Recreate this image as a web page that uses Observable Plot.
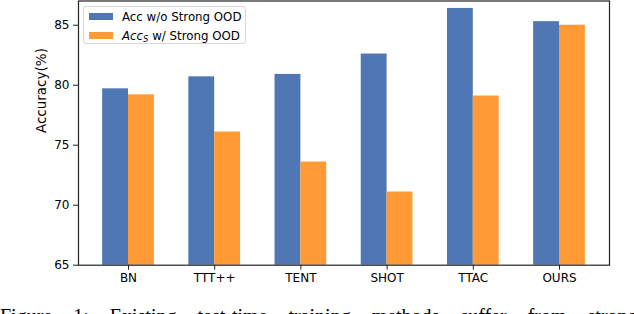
<!DOCTYPE html>
<html>
<head>
<meta charset="utf-8">
<script src="https://cdn.jsdelivr.net/npm/d3@7"></script>
<script src="https://cdn.jsdelivr.net/npm/@observablehq/plot@0.6"></script>
<style>
  html, body { margin: 0; padding: 0; background: #fff; overflow: hidden; }
  #wrap { position: relative; width: 634px; height: 314px; font-family: "DejaVu Sans", sans-serif; }
  #legend { position: absolute; left: 83px; top: 6px; width: 163px; height: 38px; border: 1px solid #d6d6d6; border-radius: 3px; background: rgba(255,255,255,0.85); box-sizing: border-box; }
  .sw { position: absolute; left: 5px; width: 24px; height: 7px; }
  .lt { position: absolute; left: 38px; font-size: 11.8px; line-height: 14px; white-space: nowrap; color: #000; }
  #caption { position: absolute; left: 0; top: 306px; font-family: "Liberation Serif", serif; font-size: 20px; line-height: 20px; white-space: nowrap; word-spacing: 16px; color: #000; }
</style>
</head>
<body>
<div id="wrap"></div>
<script>
const categories = ["BN", "TTT++", "TENT", "SHOT", "TTAC", "OURS"];
const accNoOOD = [79.7, 80.7, 80.9, 82.6, 86.4, 85.3];
const accOOD   = [79.2, 76.1, 73.6, 71.1, 79.1, 85.0];
const seriesNames = ["Acc w/o Strong OOD", "Acc_S w/ Strong OOD"];
const seriesColors = ["#4f77b3", "#ff9a35"];
const yTicks = [65, 70, 75, 80, 85];
const yLabel = "Accuracy(%)";
const captionText = "Figure 1: Existing test-time training methods suffer from strong OOD";

const barW = 0.3;
const rows = [];
categories.forEach((c, i) => {
  rows.push({i, s: 0, v: accNoOOD[i]});
  rows.push({i, s: 1, v: accOOD[i]});
});

const chart = Plot.plot({
  width: 634,
  height: 290,
  marginLeft: 78,
  marginRight: 25,
  marginTop: 0.5,
  marginBottom: 25.3,
  style: {fontFamily: "DejaVu Sans, sans-serif", fontSize: "12px", color: "#000", background: "transparent", overflow: "visible"},
  x: {domain: [-0.58, 5.58], ticks: d3.range(categories.length), tickFormat: d => categories[d], tickSize: 5, tickPadding: 3, label: null},
  y: {domain: [65, 87.02], ticks: yTicks, tickSize: 5, tickPadding: 4, label: null},
  marks: [
    Plot.rectY(rows, {
      x1: d => d.s === 0 ? d.i - barW : d.i,
      x2: d => d.s === 0 ? d.i : d.i + barW,
      y1: 65,
      y2: "v",
      fill: d => seriesColors[d.s]
    }),
    Plot.axisX({ticks: d3.range(categories.length), tickFormat: d => categories[d], tickSize: 5, tickPadding: 3, label: null, stroke: "#222"}),
    Plot.axisY({ticks: yTicks, tickSize: 5, tickPadding: 4, label: null, stroke: "#222"}),
    Plot.text([yLabel], {frameAnchor: "left", dx: -37, rotate: -90, text: d => d, fontSize: 13.5}),
    Plot.frame({stroke: "#222", strokeWidth: 1.2})
  ]
});

const wrap = document.getElementById("wrap");
wrap.appendChild(chart);

const legend = document.createElement("div");
legend.id = "legend";
seriesNames.forEach((name, k) => {
  const sw = document.createElement("div");
  sw.className = "sw";
  sw.style.top = (6 + k * 19) + "px";
  sw.style.background = seriesColors[k];
  legend.appendChild(sw);
  const t = document.createElement("div");
  t.className = "lt";
  t.style.top = (2.5 + k * 19) + "px";
  if (name.startsWith("Acc_S")) {
    const rest = name.slice(5);
    t.innerHTML = '<i>Acc</i><i style="font-size:8.5px;vertical-align:-2px">S</i>' + rest.replace(/&/g, "&amp;");
  } else {
    t.textContent = name;
  }
  legend.appendChild(t);
});
wrap.appendChild(legend);

const cap = document.createElement("div");
cap.id = "caption";
cap.textContent = captionText;
wrap.appendChild(cap);
</script>
</body>
</html>
